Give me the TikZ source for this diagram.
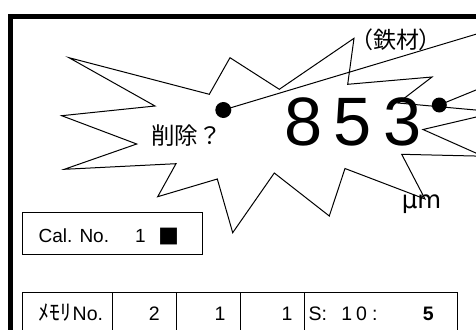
\documentclass[tikz,border=0pt]{standalone}
\usepackage{fontspec}
\setmainfont{Liberation Sans}
\newfontfamily\jp{Noto Sans CJK JP}
\newfontfamily\jpp[RawFeature=+palt]{Noto Sans CJK JP}
\newfontfamily\dvs{DejaVu Sans}
\begin{document}
\begin{tikzpicture}[x=1pt,y=-1pt,line join=miter,
  thinline/.style={line width=0.8pt,draw=black},
  starline/.style={line width=1pt,draw=black},
  dotnode/.style={circle,fill=black,inner sep=0pt},
  lbl/.style={inner sep=0pt,font=\fontsize{19.5}{22}\selectfont}]
\useasboundingbox (0,0) rectangle (476,329);
\clip (0,0) rectangle (476,329);
\fill[white] (0,0) rectangle (476,329);
% outer frame
\draw[line width=5pt] (10,345) -- (10,16.5) -- (495,16.5);
% starburst
\draw[starline,fill=white] (69,57.7) -- (209.3,94.3) -- (230,57.7) -- (279.3,89.3)
  -- (354,38.3) -- (347.7,84.3) -- (432,77) -- (398,103) -- (497.7,112)
  -- (423,129.5) -- (483,156.2) -- (401.7,154.3) -- (425,199) -- (345,168.5)
  -- (329.3,216) -- (274.3,173) -- (232.7,232.7) -- (217.3,179) -- (157.7,196.7)
  -- (176,163.7) -- (64.3,169.3) -- (136.7,144) -- (61.7,115.7) -- (155,106) -- cycle;
% labels in the burst
\node[inner sep=0pt,font=\fontsize{68.5}{70}\selectfont,anchor=base] (num) at (353,145) {8\kern11pt5\kern11pt3};
\node[inner sep=0pt,font=\jp\fontsize{23.5}{26}\selectfont] (del) at (186.7,136) {削除？};
\node[inner sep=0pt,font=\jpp\fontsize{23}{26}\selectfont] (mat) at (396,40) {（鉄材）};
\node[inner sep=0pt,font=\dvs\fontsize{24.5}{28}\selectfont,anchor=base] (um) at (421.5,208.3) {μm};
% callout dots and leaders
\node[dotnode,minimum size=16pt] (dotL) at (223.3,110) {};
\node[dotnode,minimum size=15pt] (dotR) at (439.3,105) {};
\coordinate (endL) at (520,21);
\coordinate (endR) at (520,72);
\draw[starline] (dotL.center) -- (endL);
\draw[starline] (dotR.center) -- (endR);
% Cal. No. box
\draw[thinline] (22.3,212.7) rectangle (202,254.3);
\node[lbl,font=\fontsize{19}{22}\selectfont,anchor=base west] (cal) at (38.5,242.7) {Cal. No.};
\node[lbl,font=\fontsize{19}{22}\selectfont,anchor=base east] (calnum) at (146,242.7) {1};
\node[inner sep=0pt,font=\jp\fontsize{21}{24}\selectfont] (sq) at (168.7,236.3) {■};
% table
\draw[thinline] (22.3,345) -- (22.3,292.7) -- (457.7,292.7) -- (457.7,345);
\foreach \x in {112.3,176.3,240,304} \draw[thinline] (\x,292.7) -- (\x,345);
\node[lbl,anchor=base west] (mem) at (38.5,320.7) {{\jp\fontsize{22}{24}\selectfont ﾒﾓﾘ}\kern1pt No.};
\node[lbl,anchor=base east] (c2) at (160,320.7) {2};
\node[lbl,anchor=base east] (c3) at (225.6,320.7) {1};
\node[lbl,anchor=base east] (c4) at (292.6,320.7) {1};
\node[lbl,anchor=base west] (s) at (308.5,320.7) {S:};
\node[lbl,anchor=base west] (ten) at (341.2,320.7) {1\kern4pt0\kern5pt:};
\node[lbl,font=\bfseries\fontsize{19.5}{22}\selectfont,anchor=base east] (five) at (434,320.7) {5};
\end{tikzpicture}
\end{document}
